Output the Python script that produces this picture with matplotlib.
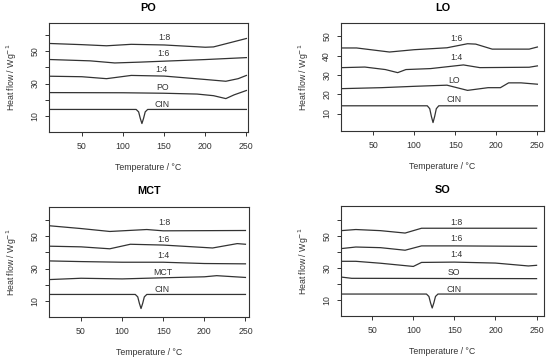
import matplotlib.pyplot as plt

plt.rcParams['font.family'] = ['Liberation Sans', 'DejaVu Sans']

# temperature / heat-flow points
cin_x = [12, 116, 119, 121, 123, 125, 127, 130, 250]
cin_y = [14.0, 14.0, 12.5, 8.5, 5.3, 8.5, 12.5, 14.0, 14.0]

po_curves = {
    'CIN': (cin_x, cin_y),
    'PO': ([12, 100, 150, 190, 210, 225, 235, 250],
           [24.4, 24.3, 24.0, 23.5, 22.5, 20.7, 23.0, 25.7]),
    '1:4': ([12, 50, 80, 110, 150, 200, 225, 240, 250],
            [34.5, 34.2, 33.0, 35.0, 34.6, 32.5, 31.4, 33.0, 35.0]),
    '1:6': ([12, 60, 90, 120, 150, 200, 250],
            [44.8, 44.0, 42.7, 43.2, 43.8, 44.8, 46.0]),
    '1:8': ([12, 50, 80, 110, 150, 200, 210, 250],
            [54.7, 54.0, 53.3, 54.2, 53.8, 52.4, 52.6, 57.8]),
}
lo_curves = {
    'CIN': (cin_x, cin_y),
    'LO': ([12, 60, 100, 140, 165, 190, 205, 215, 230, 250],
           [22.9, 23.4, 24.1, 24.7, 22.0, 23.4, 23.4, 25.9, 25.9, 25.2]),
    '1:4': ([12, 40, 65, 80, 90, 120, 160, 180, 240, 250],
            [33.8, 34.1, 32.8, 31.2, 32.8, 33.3, 35.2, 33.8, 34.0, 34.7]),
    '1:6': ([12, 30, 70, 100, 140, 165, 175, 195, 240, 250],
            [44.0, 44.0, 41.9, 43.1, 44.1, 46.2, 46.0, 43.4, 43.4, 44.5]),
}
mct_curves = {
    'CIN': (cin_x, cin_y),
    'MCT': ([12, 50, 100, 150, 200, 215, 250],
            [23.2, 24.0, 23.6, 24.3, 24.9, 25.6, 24.5]),
    '1:4': ([12, 50, 100, 150, 200, 250],
            [34.7, 34.3, 33.9, 33.9, 33.1, 32.9]),
    '1:6': ([12, 50, 85, 110, 150, 210, 240, 250],
            [43.8, 43.4, 42.2, 45.0, 44.5, 42.7, 45.4, 45.0]),
    '1:8': ([12, 50, 85, 130, 150, 250],
            [56.4, 54.7, 52.9, 54.1, 53.3, 53.5]),
}
so_curves = {
    'CIN': (cin_x, cin_y),
    'SO': ([12, 25, 250], [24.6, 23.8, 23.6]),
    '1:4': ([12, 30, 60, 100, 110, 150, 200, 240, 250],
            [34.4, 34.4, 33.2, 31.2, 33.7, 33.9, 33.3, 31.5, 31.9]),
    '1:6': ([12, 30, 60, 90, 110, 150, 250],
            [42.3, 43.3, 42.9, 41.3, 44.0, 44.0, 43.7]),
    '1:8': ([12, 30, 60, 90, 110, 250],
            [53.5, 54.2, 53.5, 52.0, 55.0, 55.0]),
}

label_pos = {'PO': [(148, 17), (148, 27.3), (147, 38.6), (149, 48.6), (150, 58.4)],
             'LO': [(149, 17.2), (149, 27.2), (152, 39), (152, 49.1)],
             'MCT': [(149, 17), (149, 27.5), (150, 37.8), (150, 48), (151, 58.5)],
             'SO': [(149, 17), (149, 27.5), (152, 38.5), (152, 48.3), (152, 58.7)]}

panels = [
    ('PO', po_curves, [0.089, 0.634, 0.362, 0.302], (10, 252), (0, 67.3), [10, 30, 50]),
    ('LO', lo_curves, [0.620, 0.637, 0.369, 0.299], (11, 258), (0.9, 56.9), [10, 20, 30, 40, 50]),
    ('MCT', mct_curves, [0.089, 0.122, 0.364, 0.305], (11, 254.5), (0.1, 68.1), [10, 30, 50]),
    ('SO', so_curves, [0.620, 0.125, 0.369, 0.305], (12, 259), (0.4, 69), [10, 30, 50]),
]

fs = 6.3
fig = plt.figure(figsize=(5.5, 3.61), dpi=100)
fig.patch.set_facecolor('white')

for name, curves, pos, xl, yl, ylabs in panels:
    ax = fig.add_axes(pos)
    for (lab, (xs, ys)), (tx, ty) in zip(curves.items(), label_pos[name]):
        ax.plot(xs, ys, color='#333333', lw=0.9)
        ax.text(tx, ty, lab, fontsize=fs, ha='center', va='center', color='#333333')
    ax.set_xlim(*xl)
    ax.set_ylim(*yl)
    ax.set_xticks([50, 100, 150, 200, 250])
    yt = list(range(10, int(yl[1]) + 1, 10))
    ax.set_yticks(yt)
    ax.set_yticklabels([str(v) if v in ylabs else '' for v in yt], rotation=90, va='center')
    ax.tick_params(labelsize=fs, length=3, width=0.7, colors='#333333', pad=4)
    for sp in ax.spines.values():
        sp.set_linewidth(0.8)
        sp.set_color('#333333')
    ax.set_title(name, fontsize=7.8, fontweight='bold', pad=9)
    ax.set_xlabel('Temperature / °C', fontsize=fs, labelpad=9, color='#333333')
    ax.set_ylabel('Heat flow / Wg$^{-1}$', fontsize=fs, labelpad=8, color='#333333')

fig.savefig('out.png', dpi=100)
